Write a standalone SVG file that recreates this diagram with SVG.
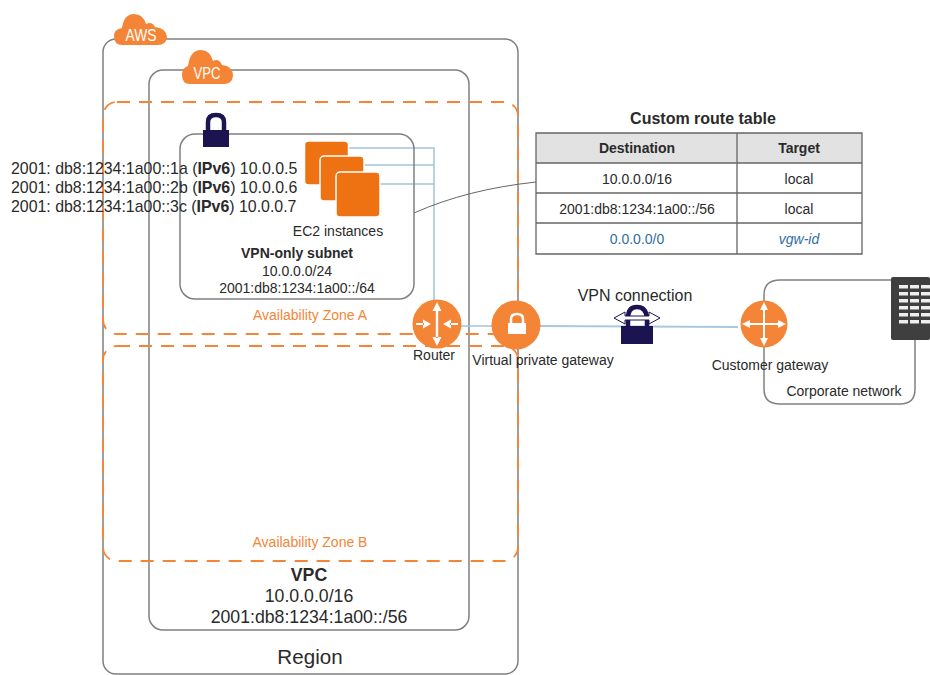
<svg xmlns="http://www.w3.org/2000/svg" width="930" height="675" viewBox="0 0 930 675">
<style>
text{font-family:"Liberation Sans",Arial,sans-serif;fill:#2a2a2a;text-anchor:middle}
.box{fill:none;stroke:#808080;stroke-width:1.5}
.az{fill:none;stroke:#f58536;stroke-width:1.8;stroke-dasharray:13 9}
.blue{fill:none;stroke:#a3c3dc;stroke-width:1.5}
.or{fill:#f58536}
.ec{fill:#ef7212;stroke:#fff;stroke-width:1.5}
.gl{fill:#fff}
.ar{fill:none;stroke:#fff;stroke-width:2}
.lock{fill:#1c1450}
.sh{fill:none;stroke:#1c1450;stroke-width:4.500}
.az-t{font-size:14px;fill:#f58536}
.s{font-size:14px}
.ip{font-size:15.900px;text-anchor:start}
.t{font-size:14px}
.h{font-size:14px;font-weight:bold}
.big{font-size:17.700px}
</style>
<g id="region"><rect class="box" x="103" y="39" width="415" height="635" rx="13"/>
<text x="310" y="664" style="font-size:20.600px">Region</text></g>
<g id="vpc"><rect class="box" x="149" y="70" width="320" height="560" rx="14"/>
<text class="big" x="309" y="581" font-weight="bold">VPC</text>
<text class="big" x="309" y="602">10.0.0.0/16</text>
<text class="big" x="309" y="623">2001:db8:1234:1a00::/56</text></g>
<g id="zone-a"><rect class="az" x="103" y="102" width="415" height="232" rx="14"/>
<text class="az-t" x="310" y="320">Availability Zone A</text></g>
<g id="zone-b"><rect class="az" x="103" y="346" width="415" height="215" rx="14"/>
<text class="az-t" x="310" y="547">Availability Zone B</text></g>
<g id="connectors">
<path class="blue" d="M346 148H434V320M362 165H434M380 184H434"/>
<path class="blue" d="M460 326H495"/>
<path fill="none" stroke="#a9c8e0" stroke-width="2" d="M540 326L738 327"/>
<path d="M414 213C450 197 490 187 536 182" fill="none" stroke="#666" stroke-width="1"/>
</g>
<g id="aws-cloud"><path class="or" d="M122 45Q114 45 114 36Q114 29 122 28Q124 14 134 14Q143 14 146 24Q152 21 155 27Q166 28 167 37Q166 45 158 45Z"/>
<text x="141" y="41" textLength="31" lengthAdjust="spacingAndGlyphs" style="fill:#fff;font-size:17px">AWS</text></g>
<g id="vpc-cloud"><path class="or" d="M190 84Q182 84 182 75Q182 68 188 66Q190 50 201 50Q210 50 213 61Q219 58 222 65Q233 66 233 76Q232 84 224 84Z"/>
<text x="207" y="79" textLength="27" lengthAdjust="spacingAndGlyphs" style="fill:#fff;font-size:17px">VPC</text></g>
<g id="subnet"><rect class="box" x="180" y="134" width="234" height="165" rx="15"/>
<path class="sh" d="M208 131V122Q208 115 216 115Q224 115 224 122V131"/><rect class="lock" x="203" y="130" width="26" height="17"/>
<text class="h" x="297" y="258">VPN-only subnet</text>
<text class="t" x="297" y="276">10.0.0.0/24</text>
<text class="t" x="297" y="293">2001:db8:1234:1a00::/64</text></g>
<g id="ec2">
<rect class="ec" x="304.500" y="141" width="44" height="44" rx="4"/>
<rect class="ec" x="320" y="156" width="44" height="45" rx="4"/>
<rect class="ec" x="336" y="172" width="44" height="45" rx="4"/>
<text class="s" x="338" y="236">EC2 instances</text></g>
<g id="addresses">
<text class="ip" x="11" y="174">2001: db8:1234:1a00::1a (<tspan font-weight="bold">IPv6</tspan>) 10.0.0.5</text>
<text class="ip" x="11" y="193">2001: db8:1234:1a00::2b (<tspan font-weight="bold">IPv6</tspan>) 10.0.0.6</text>
<text class="ip" x="11" y="212">2001: db8:1234:1a00::3c (<tspan font-weight="bold">IPv6</tspan>) 10.0.0.7</text></g>
<g id="router"><circle class="or" cx="437" cy="324" r="24.500"/>
<path class="gl" d="M435.800 310H438.200V338H435.800Z M437 302L441.500 311H432.500Z M437 346L441.500 337H432.500Z M416 323H424V325H416Z M431 324L423 319.500V328.500Z M458 323H450V325H458Z M443 324L451 319.500V328.500Z"/>
<text class="s" x="434" y="360">Router</text></g>
<g id="vpg"><circle class="or" cx="516" cy="325" r="24.500"/>
<rect class="gl" x="508" y="323" width="18" height="11"/><path d="M511 324V319Q511 314 517 314Q523 314 523 319V324" fill="none" stroke="#fff" stroke-width="2.500"/>
<text class="s" x="543" y="365">Virtual private gateway</text></g>
<g id="vpn"><text x="635" y="301" style="font-size:16px">VPN connection</text>
<path class="sh" d="M628 328V318Q628 307 637 307Q646 307 647 318V328"/>
<rect class="lock" x="621" y="326" width="32" height="18"/>
<path d="M614 318L625 312V316H649V312L660 318L649 324V320H625V324Z" fill="#fff" stroke="#1c1450" stroke-width="1"/></g>
<g id="corporate"><path class="box" d="M892 280H780Q764 280 764 295V389Q764 404 780 404H900Q915 404 915 389V340"/>
<text class="s" x="844" y="396">Corporate network</text>
<rect x="891" y="277" width="39" height="63" rx="2" fill="#3f3f3f"/>
<path d="M899 285h9v3.500h-9zM910 285h9v3.500h-9zM921 285h9v3.500h-9zM899 292h9v3.500h-9zM910 292h9v3.500h-9zM921 292h9v3.500h-9zM899 299h9v3.500h-9zM910 299h9v3.500h-9zM921 299h9v3.500h-9zM899 306h9v3.500h-9zM910 306h9v3.500h-9zM921 306h9v3.500h-9zM899 313h9v3.500h-9zM910 313h9v3.500h-9zM921 313h9v3.500h-9zM899 320h9v3.500h-9zM910 320h9v3.500h-9zM921 320h9v3.500h-9z" fill="#eee"/></g>
<g id="customer-gateway"><circle class="or" cx="764" cy="324" r="23.500"/>
<path class="gl" d="M763 310H765V338H763Z M750 323H778V325H750Z M764 302L768 310H760Z M764 346L768 338H760Z M742 324L750 320V328Z M786 324L778 320V328Z"/>
<text class="s" x="770" y="370">Customer gateway</text></g>
<g id="route-table"><text x="703" y="124" style="font-size:16px;font-weight:bold">Custom route table</text>
<rect x="536" y="133" width="326" height="30" fill="#e2e2e2"/>
<path fill="none" stroke="#666" stroke-width="1.300" d="M536 133H862V254H536ZM536 163H862M536 193H862M536 223H862M737 133V254"/>
<text class="h" x="637" y="153">Destination</text><text class="h" x="799" y="153">Target</text>
<text class="t" x="637" y="184">10.0.0.0/16</text><text class="t" x="799" y="184">local</text>
<text class="t" x="637" y="214">2001:db8:1234:1a00::/56</text><text class="t" x="799" y="214">local</text>
<text class="t" x="637" y="244" style="fill:#2e6da4">0.0.0.0/0</text><text class="t" x="799" y="244" style="fill:#2e6da4;font-style:italic">vgw-id</text></g>
</svg>
